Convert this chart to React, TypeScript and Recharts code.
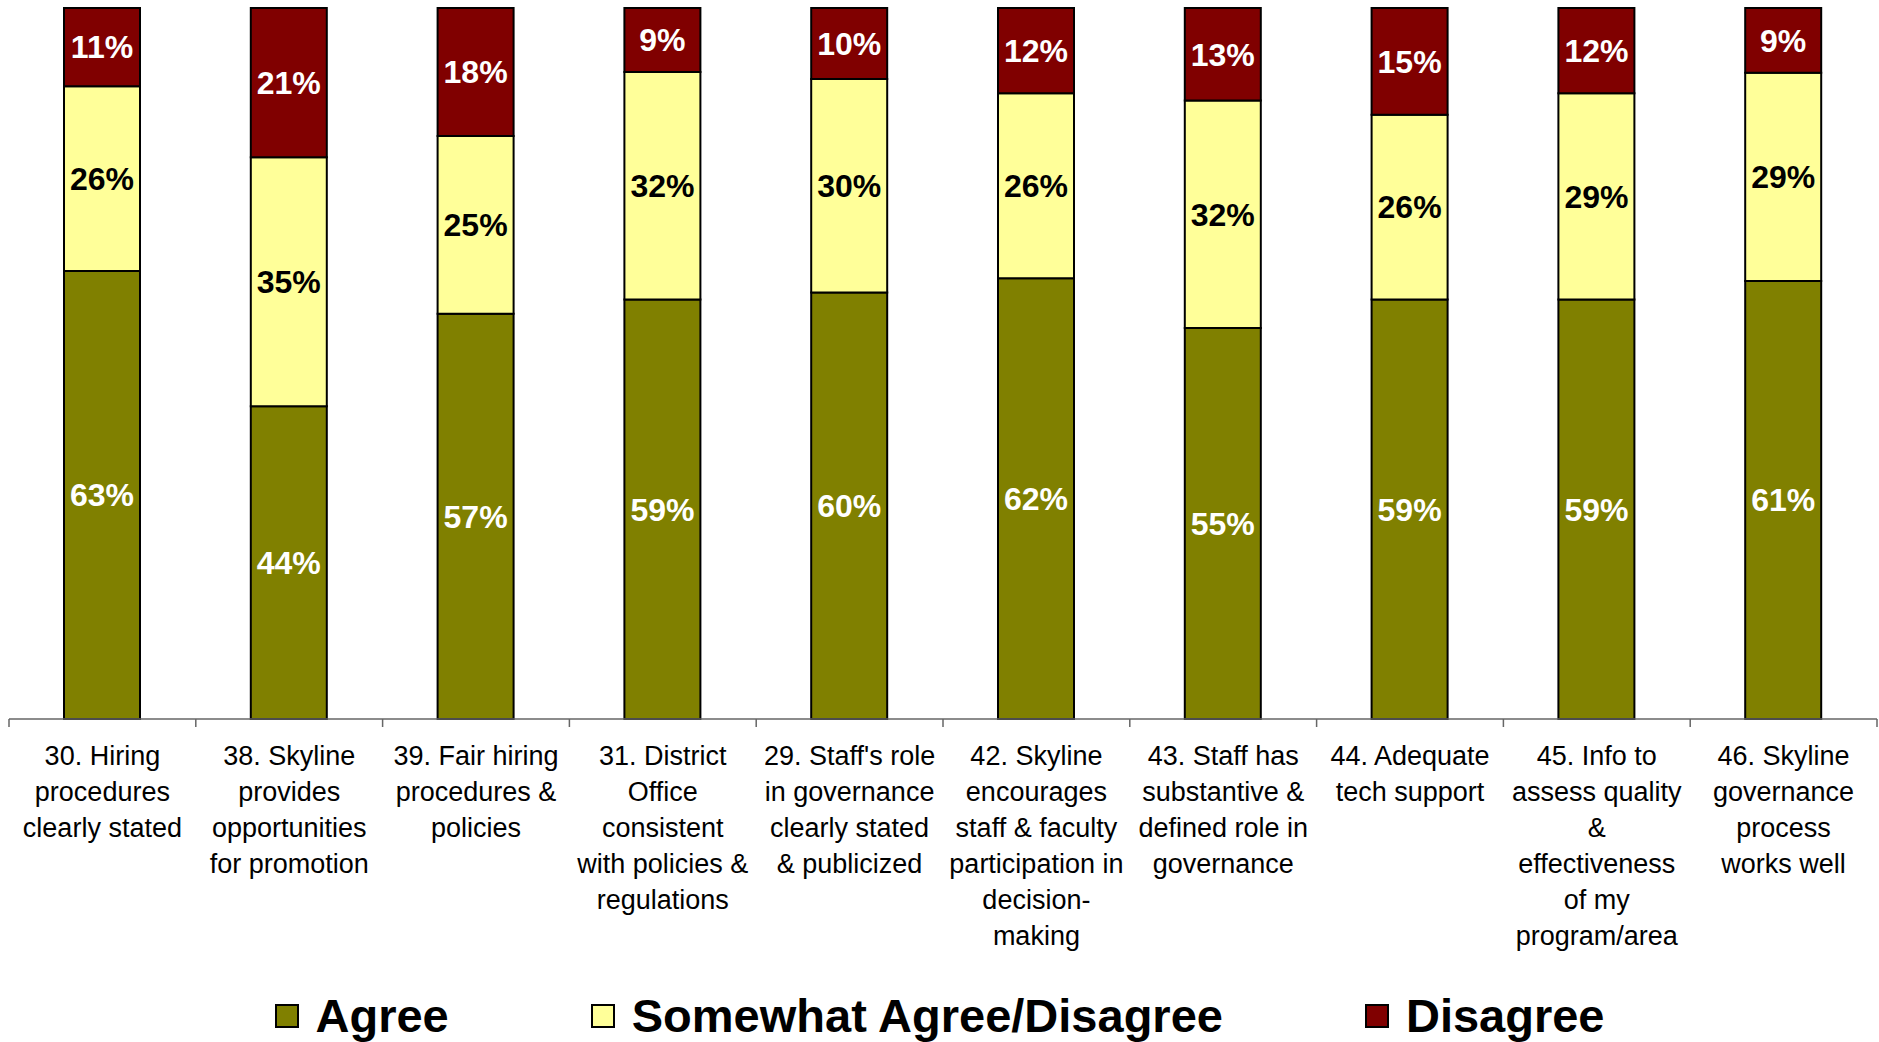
import { BarChart, Bar, XAxis, YAxis, Legend, LabelList } from "recharts";

// survey items, in the order they appear (line breaks as on the slide)
const categories = [
  "30. Hiring\nprocedures\nclearly stated",
  "38. Skyline\nprovides\nopportunities\nfor promotion",
  "39. Fair hiring\nprocedures &\npolicies",
  "31. District\nOffice\nconsistent\nwith policies &\nregulations",
  "29. Staff's role\nin governance\nclearly stated\n& publicized",
  "42. Skyline\nencourages\nstaff & faculty\nparticipation in\ndecision-\nmaking",
  "43. Staff has\nsubstantive &\ndefined role in\ngovernance",
  "44. Adequate\ntech support",
  "45. Info to\nassess quality\n&\neffectiveness\nof my\nprogram/area",
  "46. Skyline\ngovernance\nprocess\nworks well",
];

const agree = [63, 44, 57, 59, 60, 62, 55, 59, 59, 61];
const somewhat = [26, 35, 25, 32, 30, 26, 32, 26, 29, 29];
const disagree = [11, 21, 18, 9, 10, 12, 13, 15, 12, 9];

const seriesNames = ["Agree", "Somewhat Agree/Disagree", "Disagree"];
const seriesColors = ["#808000", "#FFFF99", "#800000"];

const W = 1879;
const H = 1042;
const MARGIN = { top: 8, right: 2, left: 9, bottom: 0 };
const FONT = '"Liberation Sans", Arial, Helvetica, sans-serif';

const data = categories.map((name, i) => ({
  name,
  agree: agree[i],
  somewhat: somewhat[i],
  disagree: disagree[i],
}));

function CategoryTick(props: any) {
  const { x, y, payload, index } = props;
  const lines = String(payload.value).split("\n");
  const band = (W - MARGIN.left - MARGIN.right) / categories.length;
  const left = x - band / 2;
  const right = x + band / 2;
  return (
    <g>
      <line x1={left} y1={y} x2={left} y2={y + 8} stroke="#666" strokeWidth={1.5} />
      {index === categories.length - 1 ? (
        <line x1={right} y1={y} x2={right} y2={y + 8} stroke="#666" strokeWidth={1.5} />
      ) : null}
      <text x={x} y={y + 46} textAnchor="middle" fontFamily={FONT} fontSize={27} fill="#000">
        {lines.map((l, k) => (
          <tspan key={k} x={x} dy={k === 0 ? 0 : 36}>
            {l}
          </tspan>
        ))}
      </text>
    </g>
  );
}

function LegendContent() {
  return (
    <div
      style={{
        display: "flex",
        justifyContent: "center",
        alignItems: "center",
        height: 52,
        lineHeight: "52px",
        fontFamily: FONT,
        fontWeight: "bold",
        fontSize: 47,
        color: "#000",
      }}
    >
      {seriesNames.map((n, i) => (
        <div key={n} style={{ display: "flex", alignItems: "center", marginLeft: i ? 142 : 0 }}>
          <span
            style={{
              width: 20,
              height: 20,
              background: seriesColors[i],
              border: "2px solid #000",
              marginRight: 17,
            }}
          />
          <span>{n}</span>
        </div>
      ))}
    </div>
  );
}

const pct = (v: any) => `${v}%`;

export default function App() {
  return (
    <div style={{ position: "absolute", left: 0, top: 0, background: "#fff" }}>
      <BarChart width={W} height={H} data={data} margin={MARGIN} stackOffset="expand">
        <XAxis
          dataKey="name"
          interval={0}
          height={271}
          tickSize={0}
          tickMargin={0}
          tickLine={false}
          axisLine={{ stroke: "#666", strokeWidth: 1.5 }}
          tick={<CategoryTick />}
        />
        <YAxis hide domain={[0, 1]} />
        <Legend
          verticalAlign="bottom"
          content={<LegendContent />}
          wrapperStyle={{ left: 0, width: W }}
        />
        <Bar dataKey="agree" stackId="s" fill={seriesColors[0]} stroke="#000" strokeWidth={2} barSize={76} isAnimationActive={false}>
          <LabelList dataKey="agree" position="center" formatter={pct} fill="#fff" fontSize={32} fontWeight="bold" fontFamily={FONT} />
        </Bar>
        <Bar dataKey="somewhat" stackId="s" fill={seriesColors[1]} stroke="#000" strokeWidth={2} barSize={76} isAnimationActive={false}>
          <LabelList dataKey="somewhat" position="center" formatter={pct} fill="#000" fontSize={32} fontWeight="bold" fontFamily={FONT} />
        </Bar>
        <Bar dataKey="disagree" stackId="s" fill={seriesColors[2]} stroke="#000" strokeWidth={2} barSize={76} isAnimationActive={false}>
          <LabelList dataKey="disagree" position="center" formatter={pct} fill="#fff" fontSize={32} fontWeight="bold" fontFamily={FONT} />
        </Bar>
      </BarChart>
    </div>
  );
}
